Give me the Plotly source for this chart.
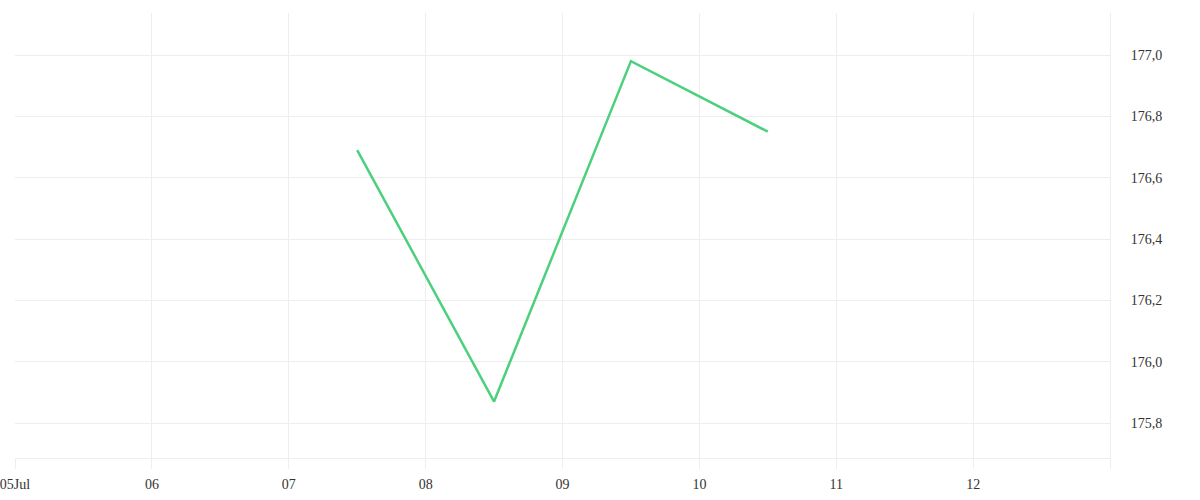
import plotly.graph_objects as go

dates = ["2024-07-07 12:00", "2024-07-08 12:00", "2024-07-09 12:00", "2024-07-10 12:00"]
values = [176.69, 175.87, 176.98, 176.75]

tick_dates = ["2024-07-05", "2024-07-06", "2024-07-07", "2024-07-08", "2024-07-09",
              "2024-07-10", "2024-07-11", "2024-07-12", "2024-07-13"]
tick_text = ["05Jul", "06", "07", "08", "09", "10", "11", "12", ""]

y_ticks = [175.8, 176.0, 176.2, 176.4, 176.6, 176.8, 177.0]

grid = "#eeeeee"
font = dict(family="Liberation Serif", size=14, color="#333333")

fig = go.Figure()
fig.add_trace(go.Scatter(x=dates, y=values, mode="lines",
                         line=dict(color="#4cd07d", width=2.5),
                         showlegend=False))

fig.update_layout(
    width=1200, height=500,
    margin=dict(l=15, r=90, t=13, b=42, autoexpand=False),
    paper_bgcolor="white", plot_bgcolor="white",
    separators=", ",
    font=font,
    xaxis=dict(
        range=["2024-07-05", "2024-07-13"],
        tickmode="array", tickvals=tick_dates, ticktext=tick_text,
        showgrid=True, gridcolor=grid, gridwidth=1,
        ticks="outside", ticklen=10, tickcolor=grid,
        ticklabelstandoff=3, ticklabeloverflow="allow",
        showline=True, linecolor=grid, linewidth=1,
        zeroline=False, tickfont=font, automargin=False,
    ),
    yaxis=dict(
        side="right",
        range=[175.686, 177.137],
        tickmode="array", tickvals=y_ticks,
        tickformat=".1f",
        showgrid=True, gridcolor=grid, gridwidth=1,
        ticks="", ticklabelstandoff=17,
        showline=True, linecolor=grid, linewidth=1,
        zeroline=False, tickfont=font, automargin=False,
    ),
)

fig.write_html("out.html",
               config={"displayModeBar": False},
               post_script="document.body.style.margin='0';document.body.style.overflow='hidden';")
